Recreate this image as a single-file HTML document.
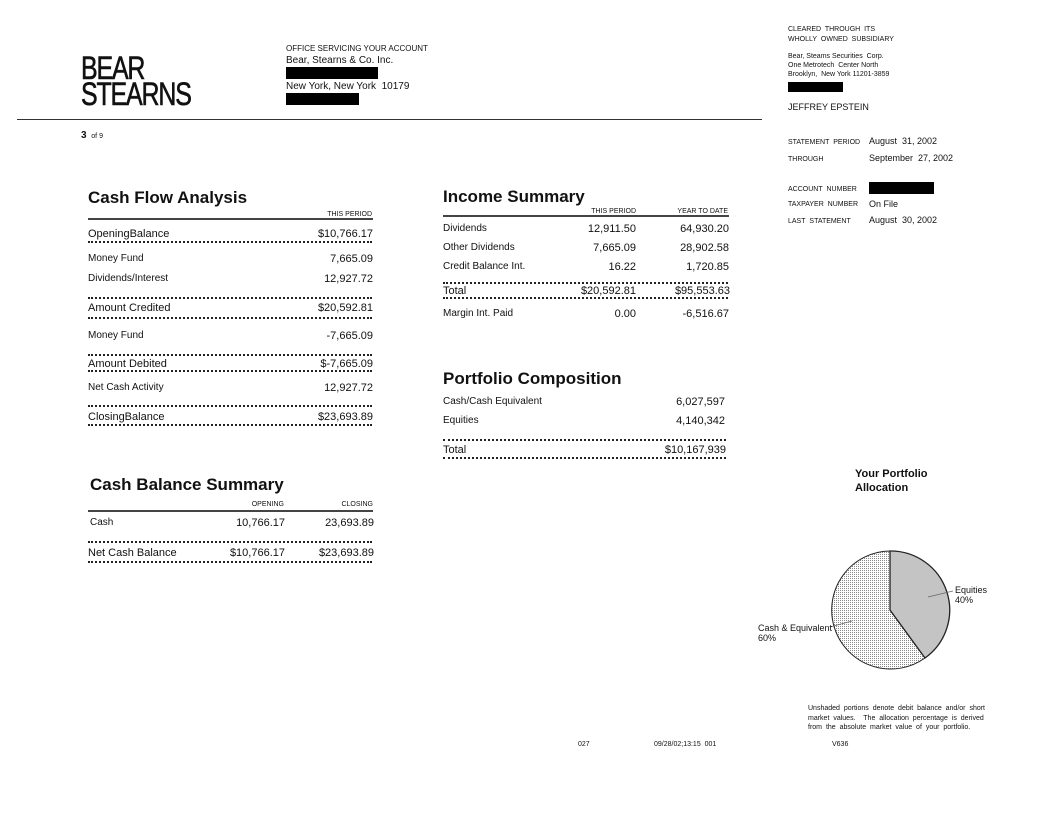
<!DOCTYPE html>
<html><head><meta charset="utf-8"><style>
body{margin:0;width:1056px;height:816px;background:#fff;position:relative;font-family:"Liberation Sans",sans-serif;color:#111;overflow:hidden}
.t{position:absolute;white-space:nowrap;font-size:10px;line-height:12px}
.r{text-align:right}
.s{font-size:7px;line-height:9px}
.b{font-size:11px}
.h{font-size:17px;font-weight:bold;line-height:20px}
.d{position:absolute;height:0;border-top:2px dotted #222}
.l{position:absolute;height:0;border-top:2px solid #444}
.k{position:absolute;background:#000}
</style></head><body>
<div class="t" style="left:81px;top:55px;font-size:32px;line-height:26px;letter-spacing:-1.5px;transform:scaleX(0.78);transform-origin:left;-webkit-text-stroke:0.6px #111">BEAR<br>STEARNS</div>
<div class="t" style="left:286px;top:43px;font-size:8px">OFFICE SERVICING YOUR ACCOUNT</div>
<div class="t" style="left:286px;top:55px">Bear, Stearns &amp; Co. Inc.</div>
<div class="k" style="left:286px;top:67px;width:92px;height:12px"></div>
<div class="t" style="left:286px;top:81px">New York, New York&nbsp; 10179</div>
<div class="k" style="left:286px;top:93px;width:73px;height:12px"></div>
<div class="l" style="left:17px;top:119px;width:745px;border-top-width:1.5px;border-color:#333"></div>
<div class="t" style="left:81px;top:130px;font-size:10px;font-weight:bold">3 <span style="font-size:7px;font-weight:normal">&nbsp;of 9</span></div>

<div class="t s" style="left:788px;top:25px">CLEARED&nbsp; THROUGH&nbsp; ITS</div>
<div class="t s" style="left:788px;top:35px">WHOLLY&nbsp; OWNED&nbsp; SUBSIDIARY</div>
<div class="t s" style="left:788px;top:52px">Bear, Steams Securities&nbsp; Corp.</div>
<div class="t s" style="left:788px;top:61px">One Metrotech&nbsp; Center North</div>
<div class="t s" style="left:788px;top:70px">Brooklyn,&nbsp; New York 11201-3859</div>
<div class="k" style="left:788px;top:82px;width:55px;height:10px"></div>
<div class="t" style="left:788px;top:101px;font-size:9px">JEFFREY EPSTEIN</div>
<div class="t s" style="left:788px;top:138px">STATEMENT&nbsp; PERIOD</div>
<div class="t" style="left:869px;top:135px;font-size:9px">August&nbsp; 31, 2002</div>
<div class="t s" style="left:788px;top:155px">THROUGH</div>
<div class="t" style="left:869px;top:152px;font-size:9px">September&nbsp; 27, 2002</div>
<div class="t s" style="left:788px;top:185px">ACCOUNT&nbsp; NUMBER</div>
<div class="k" style="left:869px;top:182px;width:65px;height:12px"></div>
<div class="t s" style="left:788px;top:200px">TAXPAYER&nbsp; NUMBER</div>
<div class="t" style="left:869px;top:198px;font-size:9px">On File</div>
<div class="t s" style="left:788px;top:217px">LAST&nbsp; STATEMENT</div>
<div class="t" style="left:869px;top:214px;font-size:9px">August&nbsp; 30, 2002</div>

<!-- Cash Flow -->
<div class="t h" style="left:88px;top:188px">Cash Flow Analysis</div>
<div class="t s r" style="right:684px;top:210px">THIS PERIOD</div>
<div class="l" style="left:88px;top:218px;width:285px"></div>
<div class="t b" style="left:88px;top:228px">OpeningBalance</div><div class="t b r" style="right:683px;top:228px">$10,766.17</div>
<div class="d" style="left:88px;top:241px;width:284px"></div>
<div class="t" style="left:88px;top:253px">Money Fund</div><div class="t b r" style="right:683px;top:253px">7,665.09</div>
<div class="t" style="left:88px;top:273px">Dividends/Interest</div><div class="t b r" style="right:683px;top:273px">12,927.72</div>
<div class="d" style="left:88px;top:297px;width:284px"></div>
<div class="t b" style="left:88px;top:302px">Amount Credited</div><div class="t b r" style="right:683px;top:302px">$20,592.81</div>
<div class="d" style="left:88px;top:317px;width:284px"></div>
<div class="t" style="left:88px;top:330px">Money Fund</div><div class="t b r" style="right:683px;top:330px">-7,665.09</div>
<div class="d" style="left:88px;top:354px;width:284px"></div>
<div class="t b" style="left:88px;top:358px">Amount Debited</div><div class="t b r" style="right:683px;top:358px">$-7,665.09</div>
<div class="d" style="left:88px;top:370px;width:284px"></div>
<div class="t" style="left:88px;top:382px">Net Cash Activity</div><div class="t b r" style="right:683px;top:382px">12,927.72</div>
<div class="d" style="left:88px;top:405px;width:284px"></div>
<div class="t b" style="left:88px;top:411px">ClosingBalance</div><div class="t b r" style="right:683px;top:411px">$23,693.89</div>
<div class="d" style="left:88px;top:424px;width:284px"></div>

<!-- Income -->
<div class="t h" style="left:443px;top:187px">Income Summary</div>
<div class="t s r" style="right:420px;top:207px">THIS PERIOD</div>
<div class="t s r" style="right:328px;top:207px">YEAR TO DATE</div>
<div class="l" style="left:443px;top:215px;width:286px"></div>
<div class="t" style="left:443px;top:223px">Dividends</div><div class="t b r" style="right:420px;top:223px">12,911.50</div><div class="t b r" style="right:327px;top:223px">64,930.20</div>
<div class="t" style="left:443px;top:242px">Other Dividends</div><div class="t b r" style="right:420px;top:242px">7,665.09</div><div class="t b r" style="right:327px;top:242px">28,902.58</div>
<div class="t" style="left:443px;top:261px">Credit Balance Int.</div><div class="t b r" style="right:420px;top:261px">16.22</div><div class="t b r" style="right:327px;top:261px">1,720.85</div>
<div class="d" style="left:443px;top:282px;width:285px"></div>
<div class="t b" style="left:443px;top:285px">Total</div><div class="t b r" style="right:420px;top:285px">$20,592.81</div><div class="t b r" style="right:326px;top:285px">$95,553.63</div>
<div class="d" style="left:443px;top:297px;width:285px"></div>
<div class="t" style="left:443px;top:308px">Margin Int. Paid</div><div class="t b r" style="right:420px;top:308px">0.00</div><div class="t b r" style="right:327px;top:308px">-6,516.67</div>

<!-- Portfolio -->
<div class="t h" style="left:443px;top:369px">Portfolio Composition</div>
<div class="t" style="left:443px;top:396px">Cash/Cash Equivalent</div><div class="t b r" style="right:331px;top:396px">6,027,597</div>
<div class="t" style="left:443px;top:415px">Equities</div><div class="t b r" style="right:331px;top:415px">4,140,342</div>
<div class="d" style="left:443px;top:439px;width:283px"></div>
<div class="t b" style="left:443px;top:444px">Total</div><div class="t b r" style="right:330px;top:444px">$10,167,939</div>
<div class="d" style="left:443px;top:457px;width:283px"></div>

<!-- Cash Balance -->
<div class="t h" style="left:90px;top:475px">Cash Balance Summary</div>
<div class="t s r" style="right:772px;top:500px">OPENING</div>
<div class="t s r" style="right:683px;top:500px">CLOSING</div>
<div class="l" style="left:88px;top:510px;width:285px"></div>
<div class="t" style="left:90px;top:517px">Cash</div><div class="t b r" style="right:771px;top:517px">10,766.17</div><div class="t b r" style="right:682px;top:517px">23,693.89</div>
<div class="d" style="left:88px;top:541px;width:284px"></div>
<div class="t b" style="left:88px;top:547px">Net Cash Balance</div><div class="t b r" style="right:771px;top:547px">$10,766.17</div><div class="t b r" style="right:682px;top:547px">$23,693.89</div>
<div class="d" style="left:88px;top:561px;width:284px"></div>

<!-- Allocation -->
<div class="t" style="left:855px;top:467px;font-size:11px;font-weight:bold;line-height:14px">Your Portfolio<br>Allocation</div>
<svg style="position:absolute;left:0;top:0" width="1056" height="816">
<defs><pattern id="p" width="2" height="2" patternUnits="userSpaceOnUse"><rect width="2" height="2" fill="#fff"/><rect width="1" height="1" fill="#888"/></pattern></defs>
<path d="M890,610 L925,658 A59,59 0 1,1 890,551 Z" fill="url(#p)" stroke="#222" stroke-width="1"/>
<path d="M890,610 L890,551 A59,59 0 0,1 925,658 Z" fill="#c4c4c4" stroke="#222" stroke-width="1.3"/>
<line x1="928" y1="597" x2="953" y2="591" stroke="#666" stroke-width="0.8"/>
<line x1="830" y1="627" x2="852" y2="621" stroke="#666" stroke-width="0.8"/>
</svg>
<div class="t" style="left:955px;top:585px;font-size:9px;line-height:10px">Equities<br>40%</div>
<div class="t" style="left:758px;top:623px;font-size:9px;line-height:10px">Cash &amp; Equivalent<br>60%</div>
<div class="t" style="left:808px;top:704px;font-size:7px;line-height:9.5px;word-spacing:2px">Unshaded portions denote debit balance and/or short<br>market values.&nbsp; The allocation percentage is derived<br>from the absolute market value of your portfolio.</div>
<div class="t s" style="left:578px;top:740px">027</div>
<div class="t s" style="left:654px;top:740px">09/28/02;13:15&nbsp; 001</div>
<div class="t s" style="left:832px;top:740px">V636</div>
</body></html>
